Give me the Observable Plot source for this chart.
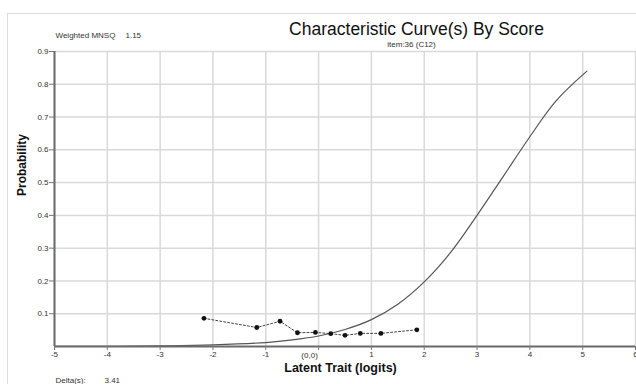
<!DOCTYPE html>
<html>
<head>
<meta charset="utf-8">
<script src="https://cdn.jsdelivr.net/npm/d3@7"></script>
<script src="https://cdn.jsdelivr.net/npm/@observablehq/plot@0.6"></script>
<style>
  html, body { margin: 0; padding: 0; background: #fff; }
  #wrap { position: relative; width: 636px; height: 384px; overflow: hidden; }
  #border { position: absolute; left: 7px; top: 13px; width: 700px; height: 400px; border: 1px solid #dcdcdc; box-sizing: border-box; }
  #chart { position: absolute; left: 0; top: 0; }
</style>
</head>
<body>
<div id="wrap"><div id="border"></div><div id="chart"></div></div>
<script>
// Model curve
const curveX = [-5, -4, -3, -2, -1, -0.5, 0, 0.5, 1, 1.5, 2, 2.5, 3, 3.5, 4, 4.5, 5.08];
const curveP = [0.0003, 0.0006, 0.002, 0.005, 0.012, 0.02, 0.032, 0.052, 0.082, 0.129, 0.197, 0.287, 0.40, 0.52, 0.64, 0.75, 0.84];
// Observed points
const obsX = [-2.17, -1.17, -0.73, -0.40, -0.06, 0.23, 0.50, 0.79, 1.18, 1.86];
const obsP = [0.086, 0.058, 0.077, 0.042, 0.043, 0.039, 0.034, 0.040, 0.040, 0.051];
// Ticks & labels
const xTicks = [-5, -4, -3, -2, -1, 0, 1, 2, 3, 4, 5, 6];
const yTicks = [0.1, 0.2, 0.3, 0.4, 0.5, 0.6, 0.7, 0.8, 0.9];
const title = "Characteristic Curve(s) By Score";
const subtitle = "item:36 (C12)";
const mnsqLabel = "Weighted MNSQ";
const mnsqValue = "1.15";
const deltaLabel = "Delta(s):";
const deltaValue = "3.41";
const xLabel = "Latent Trait (logits)";
const yLabel = "Probability";
const originLabel = "(0,0)";

const curve = curveX.map((x, i) => ({x, p: curveP[i]}));
const obs = obsX.map((x, i) => ({x, p: obsP[i]}));

const font = "'Liberation Sans', Arial, sans-serif";
const mid = {lineAnchor: "middle"};

const chart = Plot.plot({
  width: 636,
  height: 384,
  marginLeft: 54,
  marginRight: 1,
  marginTop: 51,
  marginBottom: 38,
  style: {fontFamily: font, fontSize: "8px", color: "#333", background: "transparent"},
  x: {domain: [-5, 6]},
  y: {domain: [0, 0.9]},
  marks: [
    Plot.gridX(xTicks, {stroke: "#d9d9d9", strokeOpacity: 1, strokeWidth: 1.5}),
    Plot.gridY(yTicks, {stroke: "#d9d9d9", strokeOpacity: 1, strokeWidth: 1.5}),
    Plot.line(curve, {x: "x", y: "p", stroke: "#555", strokeWidth: 1.2, curve: "catmull-rom"}),
    Plot.line(obs, {x: "x", y: "p", stroke: "#444", strokeWidth: 1, strokeDasharray: "2,2"}),
    Plot.dot(obs, {x: "x", y: "p", r: 2.4, fill: "#111", stroke: "none"}),
    Plot.ruleY([0], {stroke: "#6a6a6a", strokeWidth: 2}),
    Plot.ruleX([-5], {stroke: "#6a6a6a", strokeWidth: 2}),
    Plot.axisX({ticks: xTicks, tickSize: 4, tickPadding: 1, stroke: "#777", tickFormat: d => d === 0 ? "" : String(d), label: null, fontSize: 8}),
    Plot.axisY({ticks: yTicks, tickSize: 5, tickPadding: 1, stroke: "#777", tickFormat: d3.format(".1f"), label: null, fontSize: 8}),
    Plot.text([originLabel], {x: [0], frameAnchor: "bottom", ...mid, dx: -9, dy: 9, fontSize: 8, fill: "#333"}),
    Plot.text([title], {frameAnchor: "top", ...mid, dx: 71.5, dy: -22, fontSize: 17.5, fill: "#111"}),
    Plot.text([subtitle], {frameAnchor: "top", ...mid, dx: 66.5, dy: -7, fontSize: 8, fill: "#333"}),
    Plot.text([mnsqLabel], {frameAnchor: "top-left", ...mid, textAnchor: "start", dx: 1, dy: -16, fontSize: 8, fill: "#333"}),
    Plot.text([mnsqValue], {frameAnchor: "top-left", ...mid, textAnchor: "start", dx: 71, dy: -16, fontSize: 8, fill: "#333"}),
    Plot.text([deltaLabel], {frameAnchor: "bottom-left", ...mid, textAnchor: "start", dx: 1, dy: 34, fontSize: 8, fill: "#333"}),
    Plot.text([deltaValue], {frameAnchor: "bottom-left", ...mid, textAnchor: "start", dx: 50, dy: 34, fontSize: 8, fill: "#333"}),
    Plot.text([xLabel], {frameAnchor: "bottom", ...mid, dx: -4.5, dy: 21, fontSize: 12.5, fontWeight: "bold", fill: "#111"}),
    Plot.text([yLabel], {frameAnchor: "left", ...mid, rotate: -90, dx: -32, dy: -3, fontSize: 12, fontWeight: "bold", fill: "#111"})
  ]
});
document.getElementById("chart").appendChild(chart);
</script>
</body>
</html>
